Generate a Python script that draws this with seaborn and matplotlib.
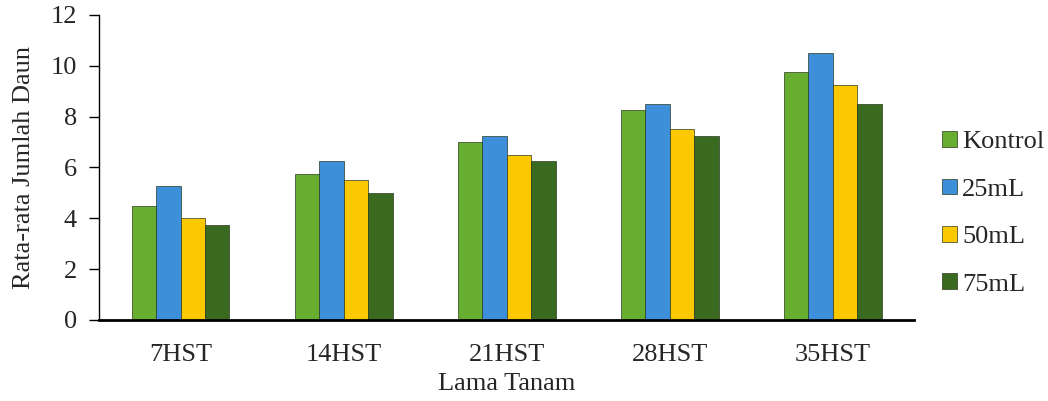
import matplotlib
matplotlib.use('Agg')
import matplotlib.pyplot as plt
import pandas as pd
import seaborn as sns

# data
categories = ['7HST', '14HST', '21HST', '28HST', '35HST']
series = ['Kontrol', '25mL', '50mL', '75mL']
kontrol = [4.5, 5.75, 7.0, 8.25, 9.75]
ml25 = [5.25, 6.25, 7.25, 8.5, 10.5]
ml50 = [4.0, 5.5, 6.5, 7.5, 9.25]
ml75 = [3.75, 5.0, 6.25, 7.25, 8.5]
colors = ['#66ad30', '#3d8fd9', '#fcc800', '#3a6a1f']

rows = []
for name, vals in zip(series, [kontrol, ml25, ml50, ml75]):
    for cat, v in zip(categories, vals):
        rows.append({'Lama Tanam': cat, 'Perlakuan': name, 'Nilai': v})
df = pd.DataFrame(rows)

sns.set_style('white')
plt.rcParams['font.family'] = ['Liberation Serif', 'DejaVu Serif']

fig = plt.figure(figsize=(10.48, 4.01), dpi=100)
ax = fig.add_axes([0.0945, 0.202, 0.778, 0.761])

sns.barplot(data=df, x='Lama Tanam', y='Nilai', hue='Perlakuan',
            palette=colors, saturation=1, width=0.6, ax=ax,
            edgecolor='#2a3a20', linewidth=0.5, legend=True)

fs = 19
ax.set_ylim(0, 12)
ax.set_xlim(-0.5, 4.5)
ax.set_yticks(range(0, 13, 2))
ax.set_xlabel('Lama Tanam', fontsize=fs)
ax.set_ylabel('Rata-rata Jumlah Daun', fontsize=fs)
ax.tick_params(axis='y', direction='out', length=7, width=1, labelsize=fs,
               left=True, color='black', pad=9)
ax.tick_params(axis='x', length=0, labelsize=fs, pad=17)
ax.xaxis.labelpad = 5
ax.yaxis.labelpad = 11
for s in ['top', 'right']:
    ax.spines[s].set_visible(False)
ax.spines['left'].set_color('black')
ax.spines['left'].set_linewidth(1)
ax.spines['bottom'].set_color('black')
ax.spines['bottom'].set_linewidth(2)

handles, labels = ax.get_legend_handles_labels()
ax.legend(handles, labels, loc='center left', bbox_to_anchor=(0.889, 0.468),
          bbox_transform=fig.transFigure, frameon=False, fontsize=fs,
          handlelength=0.55, handleheight=0.55, handletextpad=0.2,
          labelspacing=0.95, borderaxespad=0)

fig.savefig('out.png', dpi=100)
